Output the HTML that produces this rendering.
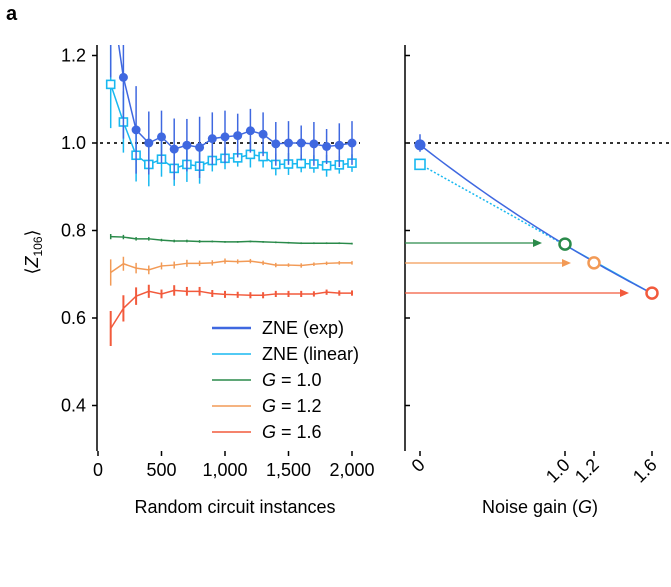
<!DOCTYPE html>
<html><head><meta charset="utf-8"><style>
body{margin:0;background:#fff;}
svg{font-family:"Liberation Sans",Arial,sans-serif;}
</style></head><body>
<svg id="c" width="671" height="582" viewBox="0 0 671 582">
<text x="6" y="20" font-size="20" font-weight="bold">a</text>
<g id="L"></g><g id="R"></g>
</svg>
<script>
const instances=[100,200,300,400,500,600,700,800,900,1000,1100,1200,1300,1400,1500,1600,1700,1800,1900,2000];
const zneExp=[1.35,1.150,1.030,1.000,1.014,0.986,0.995,0.990,1.010,1.014,1.017,1.028,1.020,0.998,1.000,1.000,0.998,0.992,0.995,1.000];
const zneExpErr=[0.2,0.14,0.10,0.072,0.06,0.07,0.06,0.07,0.06,0.06,0.05,0.05,0.05,0.05,0.05,0.04,0.05,0.04,0.05,0.05];
const zneLin=[1.134,1.048,0.972,0.951,0.963,0.942,0.951,0.947,0.960,0.965,0.966,0.974,0.969,0.951,0.952,0.953,0.952,0.948,0.950,0.954];
const zneLinErr=[0.1,0.07,0.06,0.05,0.04,0.04,0.04,0.04,0.025,0.025,0.02,0.03,0.025,0.025,0.025,0.02,0.02,0.025,0.02,0.02];
const g10=[0.786,0.785,0.781,0.781,0.778,0.776,0.776,0.775,0.775,0.774,0.774,0.775,0.774,0.773,0.772,0.771,0.771,0.771,0.771,0.770];
const g10Err=[0.006,0.005,0.004,0.004,0.003,0.003,0.003,0.003,0.002,0.002,0.002,0.002,0.002,0.002,0.002,0.002,0.002,0.002,0.002,0.002];
const g12=[0.704,0.724,0.714,0.710,0.719,0.721,0.725,0.725,0.726,0.730,0.729,0.730,0.726,0.721,0.721,0.720,0.723,0.725,0.726,0.726];
const g12Err=[0.03,0.016,0.012,0.01,0.008,0.008,0.008,0.006,0.006,0.006,0.005,0.005,0.005,0.005,0.004,0.005,0.004,0.004,0.004,0.004];
const g16=[0.576,0.622,0.650,0.661,0.655,0.663,0.661,0.661,0.656,0.654,0.653,0.652,0.652,0.655,0.655,0.655,0.655,0.659,0.657,0.657];
const g16Err=[0.04,0.03,0.02,0.015,0.01,0.012,0.01,0.01,0.008,0.008,0.007,0.007,0.007,0.007,0.007,0.007,0.006,0.006,0.006,0.006];
const gains=[1.0,1.2,1.6];
const gainVals=[0.769,0.726,0.657];
const yTicks=[0.4,0.6,0.8,1.0,1.2];
const xTicks=[0,500,1000,1500,2000];
const xTickLabels=["0","500","1,000","1,500","2,000"];
const gTicks=[0,1.0,1.2,1.6];
const gTickLabels=["0","1.0","1.2","1.6"];

const NS="http://www.w3.org/2000/svg";
const y=v=>143-(v-1)*437.5;
const xL=v=>98+v*0.127;
const xR=g=>420+g*145;
const C={exp:"#3f68e0",lin:"#18b8f0",g10:"#2a8a4a",g12:"#f29a56",g16:"#f25a3c"};
function mk(p,t,a){const e=document.createElementNS(NS,t);for(const k in a)e.setAttribute(k,a[k]);p.appendChild(e);return e;}
const L=document.getElementById('L'),R=document.getElementById('R');
const defs=mk(document.getElementById('c'),'defs',{});
const cp=mk(defs,'clipPath',{id:'clipL'});mk(cp,'rect',{x:90,y:45,width:280,height:410});

// left axes
let e=mk(L,'line',{x1:97,y1:45,x2:97,y2:451,stroke:'#000','stroke-width':1.5});

yTicks.forEach(v=>{mk(L,'line',{x1:92,x2:97,y1:y(v),y2:y(v),stroke:'#000','stroke-width':1.5});
 let t=mk(L,'text',{x:86,y:y(v)+6,'font-size':18,'text-anchor':'end'});t.textContent=v.toFixed(1);
 });
xTicks.forEach((v,i)=>{mk(L,'line',{x1:xL(v),x2:xL(v),y1:451,y2:456,stroke:'#000','stroke-width':1.5});
 let t=mk(L,'text',{x:xL(v),y:476,'font-size':18,'text-anchor':'middle'});t.textContent=xTickLabels[i];
 });
e=mk(L,'line',{x1:100,x2:360,y1:y(1),y2:y(1),stroke:'#333','stroke-width':2,'stroke-dasharray':'3,4'});

let t=mk(L,'text',{x:235,y:513,'font-size':18,'text-anchor':'middle'});t.textContent='Random circuit instances';

t=mk(L,'text',{x:0,y:0,'font-size':18,'text-anchor':'middle',transform:'translate(38,252) rotate(-90)'});
t.innerHTML='⟨<tspan font-style="italic">Z</tspan><tspan font-size="12" dy="4">106</tspan><tspan dy="-4">⟩</tspan>';


function series(vals,errs,col,name,marker,w,ew){
 const g=mk(L,'g',{'clip-path':'url(#clipL)'});
 
 vals.forEach((v,i)=>{mk(g,'line',{x1:xL(instances[i]),x2:xL(instances[i]),y1:y(v-errs[i]),y2:y(v+errs[i]),stroke:col,'stroke-width':ew});
  if(!marker)mk(g,'line',{x1:xL(instances[i])-0.1,x2:xL(instances[i])+0.1,y1:y(v),y2:y(v),stroke:col,'stroke-width':0});});
 mk(g,'polyline',{points:vals.map((v,i)=>xL(instances[i])+','+y(v)).join(' '),fill:'none',stroke:col,'stroke-width':w});
 vals.forEach((v,i)=>{if(marker==='dot')mk(g,'circle',{cx:xL(instances[i]),cy:y(v),r:4.5,fill:col});
  if(marker==='sq')mk(g,'rect',{x:xL(instances[i])-4,y:y(v)-4,width:8,height:8,fill:'#fff',stroke:col,'stroke-width':1.6});});
}
series(g10,g10Err,C.g10,'series-g10',null,1.5,1.5);
series(g12,g12Err,C.g12,'series-g12',null,1.5,1.5);
series(g16,g16Err,C.g16,'series-g16',null,1.5,2);
series(zneLin,zneLinErr,C.lin,'series-zne-linear','sq',1.5,1.5);
series(zneExp,zneExpErr,C.exp,'series-zne-exp','dot',1.5,1.5);

// legend
const leg=[["ZNE (exp)",C.exp,2.5],["ZNE (linear)",C.lin,1.5],["G = 1.0",C.g10,1.5],["G = 1.2",C.g12,1.5],["G = 1.6",C.g16,1.5]];
leg.forEach((l,i)=>{const yy=328+i*26;const g=mk(L,'g',{});
 
 mk(g,'line',{x1:212,x2:251,y1:yy,y2:yy,stroke:l[1],'stroke-width':l[2]});
 const tt=mk(g,'text',{x:262,y:yy+6,'font-size':18});
 if(l[0][0]==='G')tt.innerHTML='<tspan font-style="italic">G</tspan>'+l[0].slice(1);else tt.textContent=l[0];});

// right axes
e=mk(R,'line',{x1:405,y1:45,x2:405,y2:451,stroke:'#000','stroke-width':1.5});

yTicks.forEach(v=>mk(R,'line',{x1:405,x2:410,y1:y(v),y2:y(v),stroke:'#000','stroke-width':1.5}));
gTicks.forEach((g,i)=>{mk(R,'line',{x1:xR(g),x2:xR(g),y1:451,y2:456,stroke:'#000','stroke-width':1.5});
 const tt=mk(R,'text',{x:0,y:0,'font-size':18,'text-anchor':'end',transform:`translate(${xR(g)+6},${466}) rotate(-45)`});
 tt.textContent=gTickLabels[i];});
mk(R,'line',{x1:407,x2:671,y1:y(1),y2:y(1),stroke:'#333','stroke-width':2,'stroke-dasharray':'3,4'});
t=mk(R,'text',{x:540,y:513,'font-size':18,'text-anchor':'middle'});
t.innerHTML='Noise gain (<tspan font-style="italic">G</tspan>)';


// fits
const n=gains.length;let sx=0,sy=0,sxx=0,sxy=0,sly=0,sxly=0;
gains.forEach((g,i)=>{sx+=g;sy+=gainVals[i];sxx+=g*g;sxy+=g*gainVals[i];sly+=Math.log(gainVals[i]);sxly+=g*Math.log(gainVals[i]);});
const m=(n*sxy-sx*sy)/(n*sxx-sx*sx),b=(sy-m*sx)/n;
const me=(n*sxly-sx*sly)/(n*sxx-sx*sx),be=(sly-me*sx)/n;
const lin=mk(R,'g',{});
mk(lin,'line',{x1:xR(0),y1:y(b),x2:xR(1),y2:y(b+m),stroke:C.lin,'stroke-width':1.5,'stroke-dasharray':'2,2'});
mk(lin,'line',{x1:xR(1),y1:y(b+m),x2:xR(1.6),y2:y(b+m*1.6),stroke:C.lin,'stroke-width':1.5});
let pts=[];for(let k=0;k<=40;k++){const g=1.6*k/40;pts.push(xR(g)+','+y(Math.exp(be+me*g)));}
e=mk(R,'polyline',{points:pts.join(' '),fill:'none',stroke:C.exp,'stroke-width':1.5});

// arrows
const gc=[C.g10,C.g12,C.g16];
gains.forEach((g,i)=>{const a=mk(R,'g',{});
 const yy=y(gainVals[i])+(i===0?0:0), ya=[243,263,293][i];
 const xe=xR(g)-[32,32,32][i];
 mk(a,'line',{x1:405,x2:xe,y1:ya,y2:ya,stroke:gc[i],'stroke-width':1.3});
 mk(a,'polygon',{points:`${xe},${ya-4} ${xe+9},${ya} ${xe},${ya+4}`,fill:gc[i]});
 const c=mk(R,'circle',{cx:xR(g),cy:y(gainVals[i]),r:5.5,fill:'#fff',stroke:gc[i],'stroke-width':2.5});
 });
e=mk(R,'rect',{x:xR(0)-5,y:y(b)-5,width:10,height:10,fill:'#fff',stroke:C.lin,'stroke-width':1.6});

mk(R,'line',{x1:xR(0),x2:xR(0),y1:y(1.02),y2:y(0.98),stroke:C.exp,'stroke-width':1.5});
e=mk(R,'circle',{cx:xR(0),cy:y(Math.exp(be)),r:5.5,fill:C.exp});

</script>
</body></html>
